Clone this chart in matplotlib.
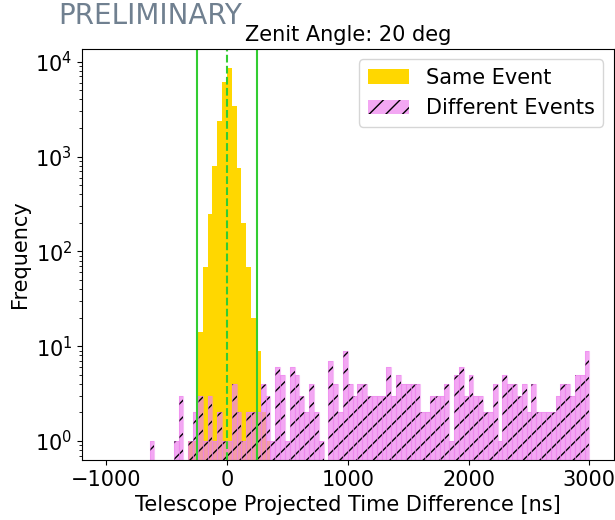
import matplotlib
matplotlib.use("Agg")
import matplotlib.pyplot as plt
import numpy as np

# --- data: 40 ns bins from -1000 to 3000 ns ---
bin_edges = np.arange(-1000, 3001, 40)
bin_centers = (bin_edges[:-1] + bin_edges[1:]) / 2

# same event counts (non-zero bins only, by bin index)
same_idx = [17, 18, 19, 20, 21, 22, 23, 24, 25, 26, 27, 28, 29, 30, 31, 32, 33]
same_val = [1, 1, 14, 68, 247, 804, 2353, 6157, 8500, 3443, 753, 197, 68, 20, 9, 2, 1]
same_counts = np.zeros(100)
same_counts[same_idx] = same_val

# different events counts, one per bin
diff_counts = [
    0, 0, 0, 0, 0, 0, 0, 0, 0, 1,
    0, 0, 0, 0, 1, 3, 0, 1, 2, 3,
    1, 3, 1, 2, 1, 1, 4, 2, 1, 2,
    2, 2, 4, 3, 1, 6, 5, 1, 6, 5,
    3, 2, 4, 2, 1, 0, 7, 4, 2, 9,
    4, 3, 4, 4, 3, 3, 3, 3, 6, 3,
    5, 4, 4, 4, 4, 2, 2, 3, 3, 3,
    4, 1, 5, 6, 3, 5, 3, 3, 2, 2,
    4, 1, 5, 4, 4, 3, 4, 2, 4, 2,
    2, 2, 2, 3, 4, 4, 3, 5, 5, 9,
]

window = 250  # coincidence window [ns]

plt.rcParams['font.size'] = 15

fig = plt.figure(figsize=(6.15, 5.2), dpi=100)
ax = fig.add_axes([82 / 615, 1 - 460 / 520, (613.5 - 82) / 615, (460 - 49) / 520])

ax.hist(bin_centers, bins=bin_edges, weights=same_counts, color='gold', log=True, label='Same Event')
ax.hist(bin_centers, bins=bin_edges, weights=diff_counts, color='violet', alpha=0.7,
        hatch='//', log=True, label='Different Events')
# faint bar outlines like the original
ax.hist(bin_centers, bins=bin_edges, weights=diff_counts, facecolor='none',
        edgecolor='violet', alpha=0.5, lw=0.8, log=True)

ax.axvline(-window, color='limegreen', lw=1.5)
ax.axvline(window, color='limegreen', lw=1.5)
ax.axvline(0, color='limegreen', lw=1.5, ls='--')

ax.set_ylim(10 ** -0.2, 10 ** 4.134)
ax.set_xlim(-1200, 3200)
ax.set_xlabel('Telescope Projected Time Difference [ns]')
ax.set_ylabel('Frequency')
ax.set_title('Zenit Angle: 20 deg', fontsize=15)
ax.legend(loc='upper right')

fig.text(58 / 615, 1 - 2 / 520, 'PRELIMINARY', color='slategray', fontsize=20, va='top', ha='left')

fig.savefig('out.png', dpi=100)
